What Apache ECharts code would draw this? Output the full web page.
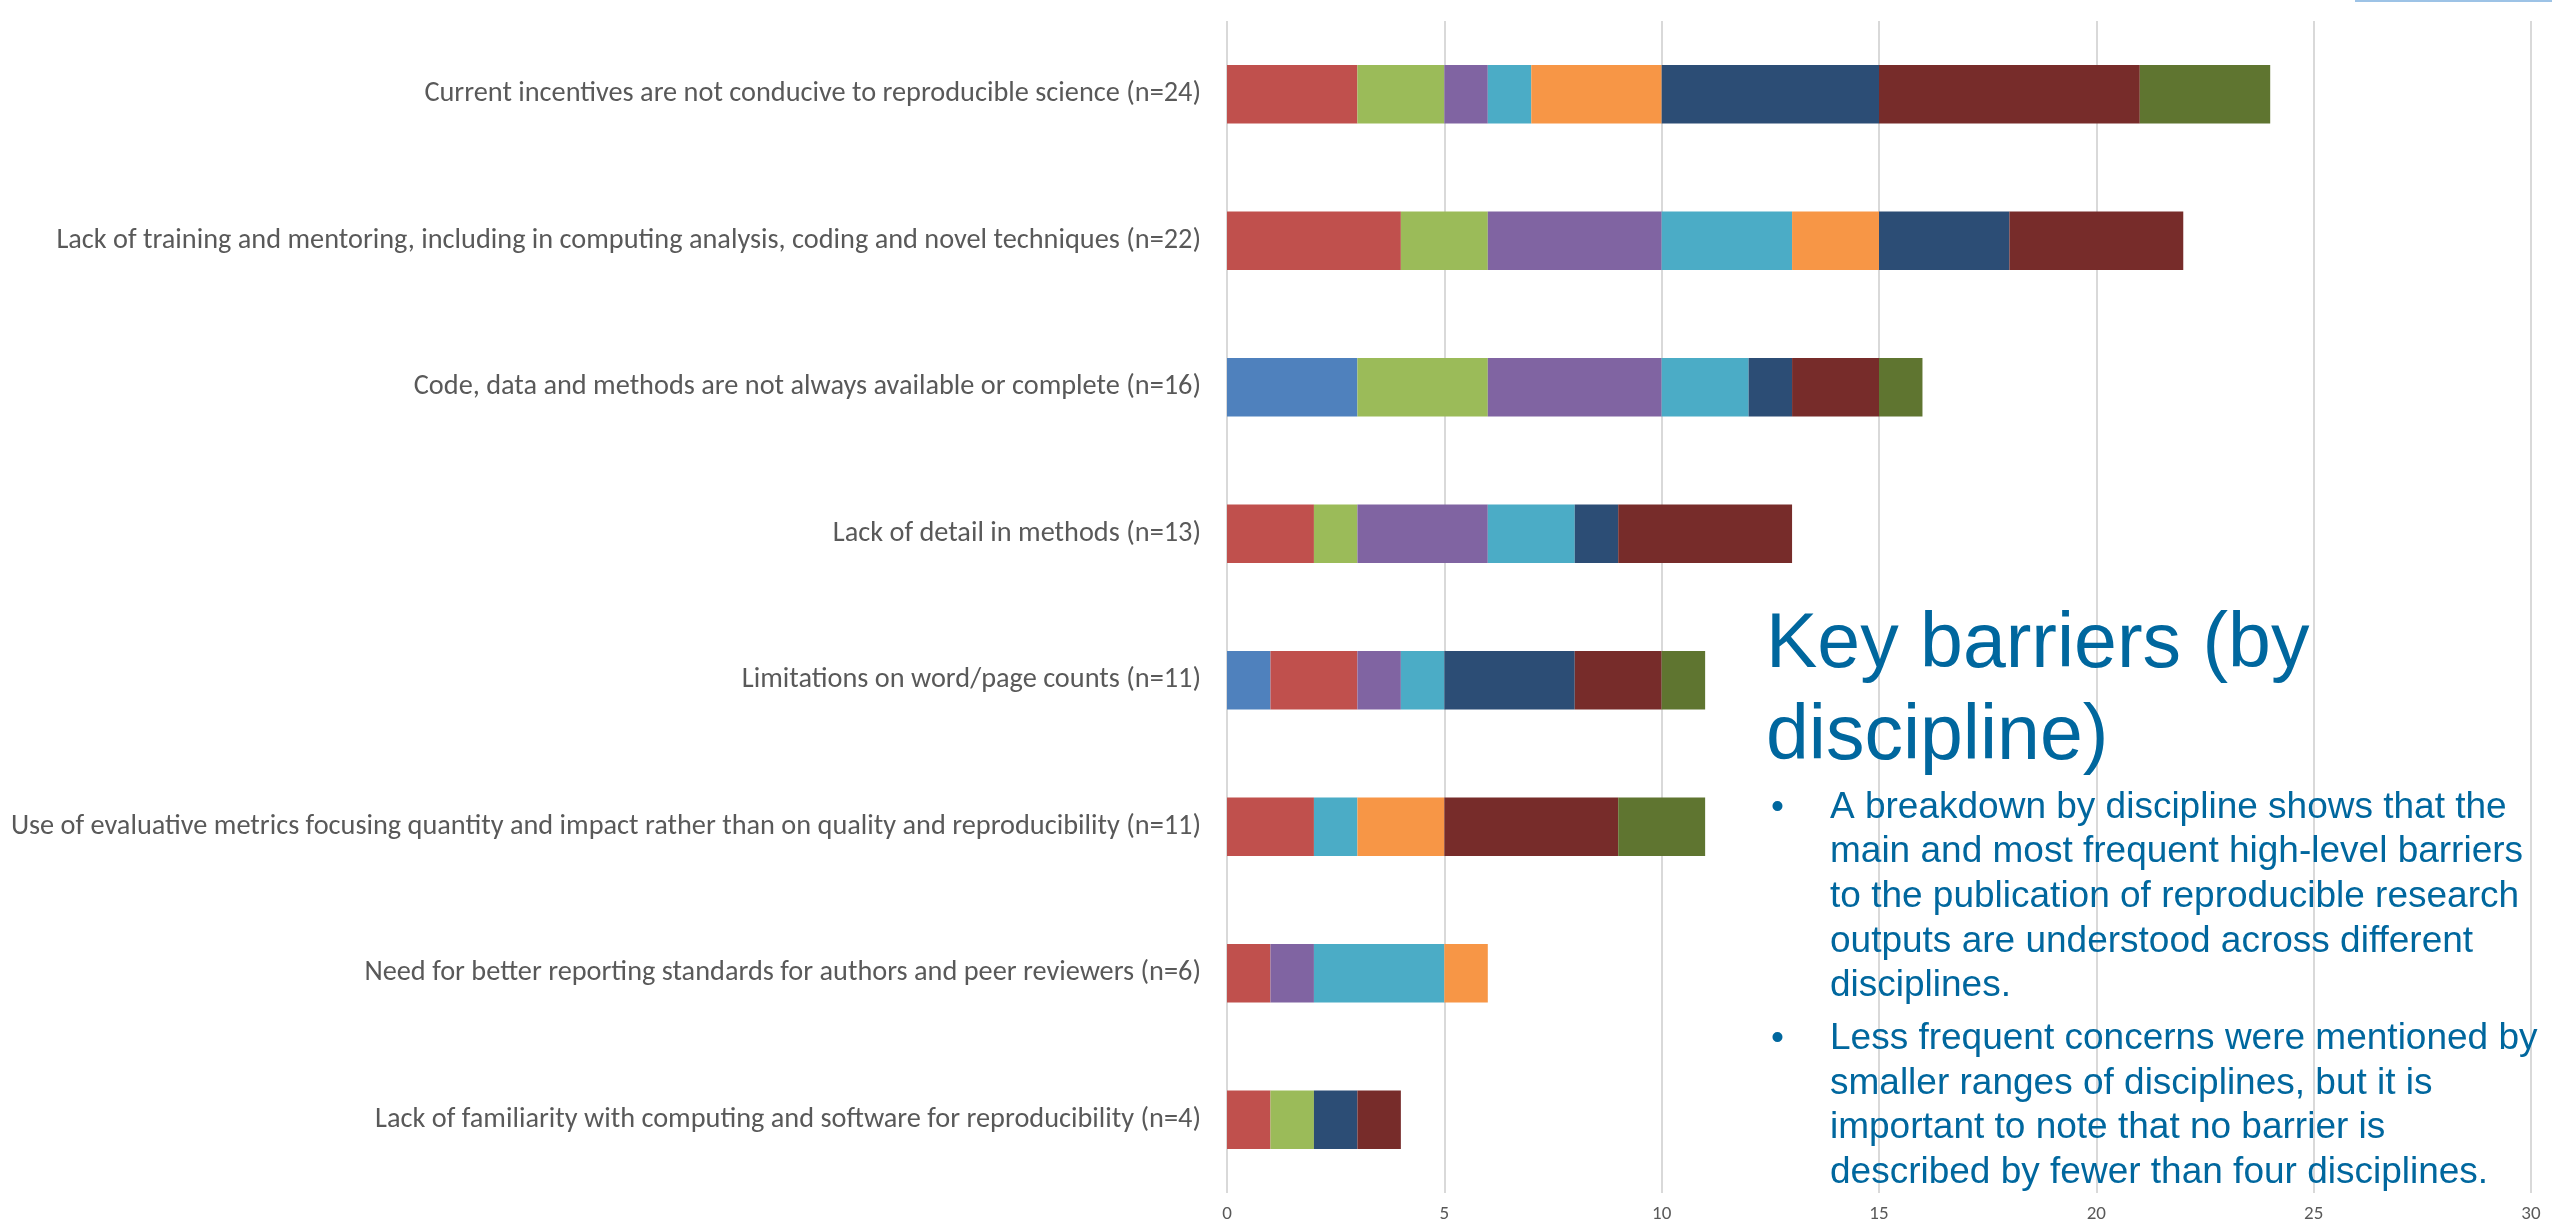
<!DOCTYPE html>
<html>
<head>
<meta charset="utf-8">
<script src="https://cdn.jsdelivr.net/npm/echarts@6/dist/echarts.min.js"></script>
<style>
html,body{margin:0;padding:0;background:#fff;}
#chart{width:2552px;height:1224px;}
</style>
</head>
<body>
<div id="chart"></div>
<script>
// ---- data ----
var categories = [
  'Current incentives are not conducive to reproducible science (n=24)',
  'Lack of training and mentoring, including in computing analysis, coding and novel techniques (n=22)',
  'Code, data and methods are not always available or complete (n=16)',
  'Lack of detail in methods (n=13)',
  'Limitations on word/page counts (n=11)',
  'Use of evaluative metrics focusing quantity and impact rather than on quality and reproducibility (n=11)',
  'Need for better reporting standards for authors and peer reviewers (n=6)',
  'Lack of familiarity with computing and software for reproducibility (n=4)'
];
var seriesNames = ['Discipline 1','Discipline 2','Discipline 3','Discipline 4','Discipline 5','Discipline 6','Discipline 7','Discipline 8','Discipline 9'];
var d1 = [0, 0, 3, 0, 1, 0, 0, 0];
var d2 = [3, 4, 0, 2, 2, 2, 1, 1];
var d3 = [2, 2, 3, 1, 0, 0, 0, 1];
var d4 = [1, 4, 4, 3, 1, 0, 1, 0];
var d5 = [1, 3, 2, 2, 1, 1, 3, 0];
var d6 = [3, 2, 0, 0, 0, 2, 1, 0];
var d7 = [5, 3, 1, 1, 3, 0, 0, 1];
var d8 = [6, 4, 2, 4, 2, 4, 0, 1];
var d9 = [3, 0, 1, 0, 1, 2, 0, 0];
var seriesData = [d1, d2, d3, d4, d5, d6, d7, d8, d9];
var xTicks = [0, 5, 10, 15, 20, 25, 30];

var titleLines = ['Key barriers (by', 'discipline)'];
var bullet1Lines = [
  'A breakdown by discipline shows that the',
  'main and most frequent high-level barriers',
  'to the publication of reproducible research',
  'outputs are understood across different',
  'disciplines.'
];
var bullet2Lines = [
  'Less frequent concerns were mentioned by',
  'smaller ranges of disciplines, but it is',
  'important to note that no barrier is',
  'described by fewer than four disciplines.'
];

// ---- styles ----
var colors = ['#4F81BD','#C0504D','#9BBB59','#8064A2','#4BACC6','#F79646','#2C4D75','#772C2A','#5F7530'];
var textBlue = '#00679E';
var FONT = '"Liberation Sans", Arial, sans-serif';
var LABEL_FONT = 'Carlito, Lato, sans-serif';

var chart = echarts.init(document.getElementById('chart'), null, {renderer: 'canvas'});

var series = seriesData.map(function (arr, i) {
  return {
    name: seriesNames[i],
    type: 'bar',
    stack: 'total',
    barWidth: '40%',
    itemStyle: {color: colors[i]},
    data: arr
  };
});

function textEl(str, x, baseline, size) {
  var y = baseline - 0.31 * size;
  return {
    type: 'text', x: x, y: y, z: 100,
    style: {
      text: str, fill: textBlue,
      font: size + 'px ' + FONT,
      align: 'left', verticalAlign: 'middle',
      textAlign: 'left', textVerticalAlign: 'middle'
    }
  };
}

var graphics = [];
// thin blue line top-right (slide decoration)
graphics.push({type: 'rect', shape: {x: 2355, y: 0, width: 197, height: 2}, style: {fill: '#9DC3E6'}, z: 100});
var TITLE_SIZE = 77, BODY_SIZE = 37;
titleLines.forEach(function (t, i) { graphics.push(textEl(t, 1766, 670 + i * 92, TITLE_SIZE)); });
var b1 = 819, lh = 44.6;
graphics.push(textEl('\u2022', 1771, b1, BODY_SIZE));
bullet1Lines.forEach(function (t, i) { graphics.push(textEl(t, 1830, b1 + i * lh, BODY_SIZE)); });
var b2 = b1 + (bullet1Lines.length - 1) * lh + 53;
graphics.push(textEl('\u2022', 1771, b2, BODY_SIZE));
bullet2Lines.forEach(function (t, i) { graphics.push(textEl(t, 1830, b2 + i * lh, BODY_SIZE)); });

chart.setOption({
  animation: false,
  backgroundColor: '#ffffff',
  grid: {left: 1227, right: 21, top: 21, bottom: 31, containLabel: false},
  xAxis: {
    type: 'value', min: xTicks[0], max: xTicks[xTicks.length - 1], interval: xTicks[1] - xTicks[0],
    axisLine: {show: false}, axisTick: {show: false},
    splitLine: {show: true, lineStyle: {color: '#D9D9D9', width: 2}},
    axisLabel: {color: '#595959', fontSize: 19, fontFamily: LABEL_FONT, margin: 12}
  },
  yAxis: {
    type: 'category', inverse: true, data: categories,
    axisLine: {show: false}, axisTick: {show: false},
    axisLabel: {color: '#595959', fontSize: 28.3, fontFamily: LABEL_FONT, margin: 26}
  },
  series: series,
  graphic: graphics
});
</script>
</body>
</html>
